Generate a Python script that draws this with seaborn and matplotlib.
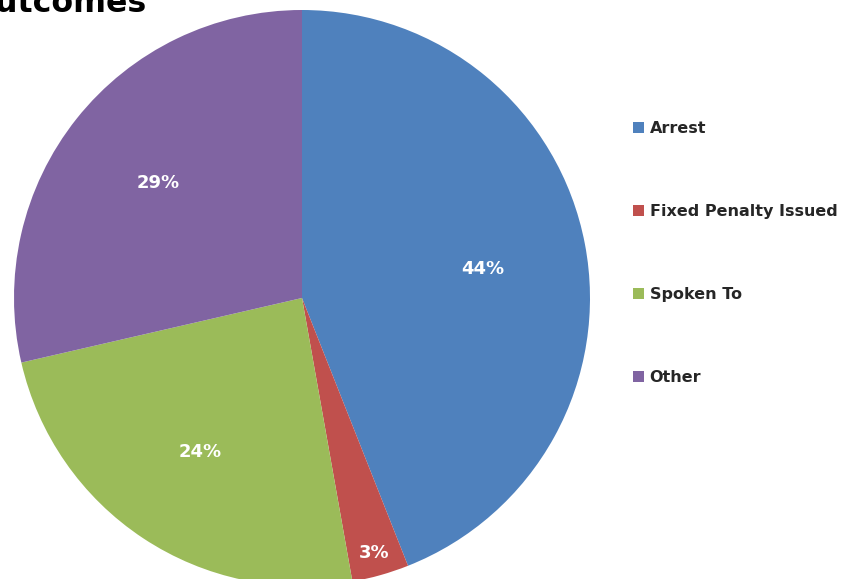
import matplotlib.pyplot as plt
import seaborn as sns

# data
categories = ["Arrest", "Fixed Penalty Issued", "Spoken To", "Other"]
shares = [44.0, 3.2, 24.2, 28.6]
colors = ["#4F81BD", "#C0504D", "#9BBB59", "#8064A2"]

sns.set_theme(style="white")
plt.rcParams['font.family'] = ['DejaVu Sans']

W, H = 842, 579
fig = plt.figure(figsize=(W / 100, H / 100), dpi=100)

# pie centre ~ (302, 298) px, radius ~288 px
cx, cy, r = 302, 298, 288
ax = fig.add_axes([(cx - r) / W, (H - cy - r) / H, 2 * r / W, 2 * r / H])
wedges, texts, autotexts = ax.pie(
    shares, colors=colors, startangle=90, counterclock=False,
    autopct="%1.0f%%", pctdistance=0.64,
    textprops=dict(color="white", fontsize=13, fontweight="bold"),
    wedgeprops=dict(linewidth=0),
)
ax.set_xlim(-1, 1)
ax.set_ylim(-1, 1)
ax.set_aspect("equal")
ax.axis("off")

# the small slice label sits near the rim
x, y = autotexts[1].get_position()
autotexts[1].set_position((x * 0.92 / 0.64, y * 0.92 / 0.64))
autotexts[0].set_position((autotexts[0].get_position()[0],
                           autotexts[0].get_position()[1] - 0.02))

# title is cropped at the top-left edge like the source image
fig.text(-32 / W, 1 - 12 / H, "Outcomes", fontsize=22.8, fontweight="bold",
         color="black", ha="left", va="baseline")

fig.legend(wedges, categories, loc="upper left",
           bbox_to_anchor=(625 / W, 1 - 113 / H), frameon=False,
           handlelength=0.68, handleheight=0.68, handletextpad=0.36,
           labelspacing=4.25, borderpad=0,
           prop=dict(size=11.5, weight="bold"), labelcolor="#262626")

plt.savefig("out.png", dpi=100)
